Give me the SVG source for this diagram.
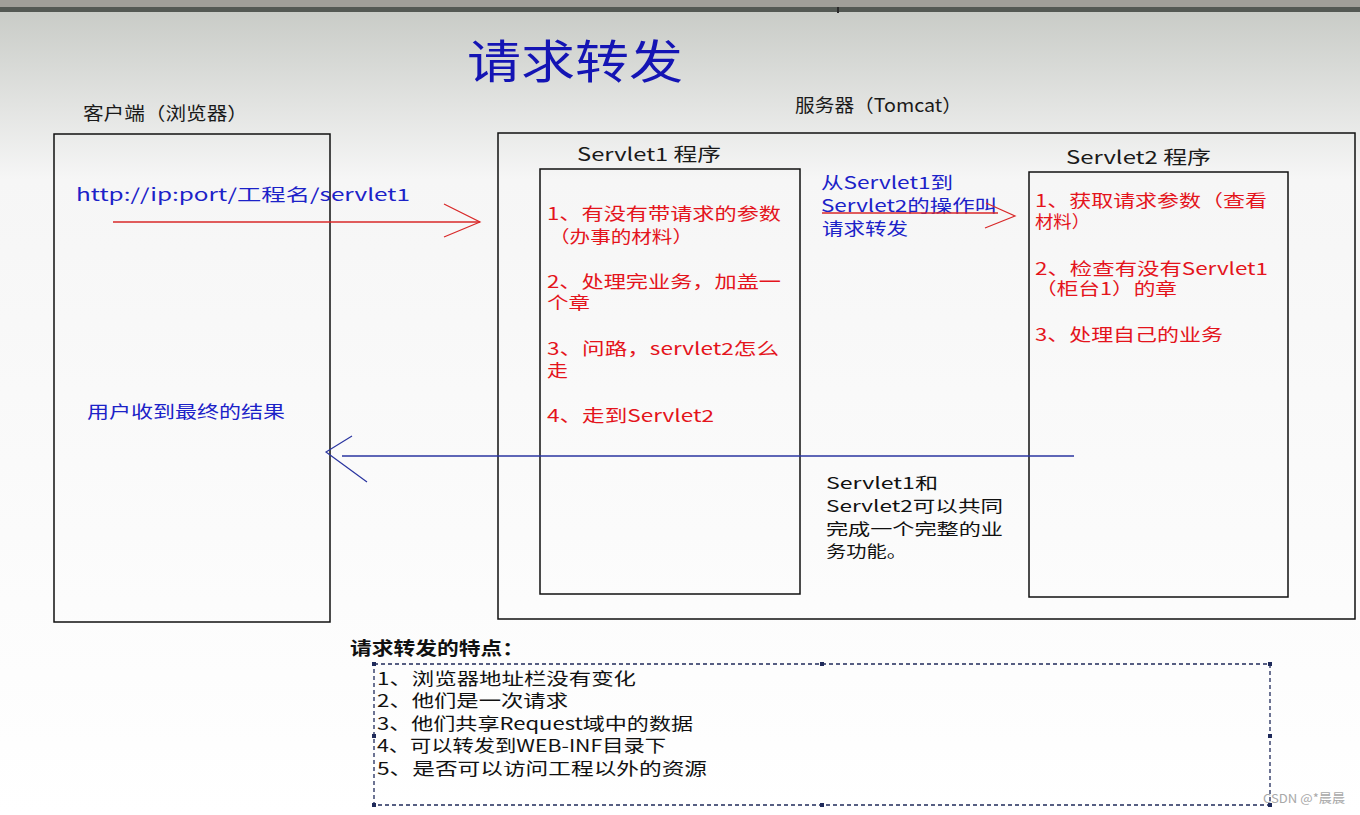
<svg xmlns="http://www.w3.org/2000/svg" width="1360" height="815" viewBox="0 0 1360 815">
<defs>
<linearGradient id="bg" x1="0" y1="0" x2="0" y2="1">
<stop offset="0" stop-color="#c6c9c4"/>
<stop offset="0.22" stop-color="#f6f6f6"/>
<stop offset="1" stop-color="#ffffff"/>
</linearGradient>
<style>
text{font-family:"Noto Sans CJK SC","Liberation Sans",sans-serif;}
.box{fill:none;stroke:#111;stroke-width:1.5;}
.blk{fill:#1a1a1a;font-size:18px;}
.red{fill:#e4141c;font-size:17px;}
.blue{fill:#1c22c8;font-size:17px;}
.note{fill:#111;font-size:16px;}
.feat{fill:#111;font-size:17px;}
.handle{fill:#1f2a5a;}
</style>
</defs>
<rect x="0" y="0" width="1360" height="815" fill="url(#bg)"/>
<rect x="0" y="0" width="1360" height="7" fill="#a19f99"/>
<rect x="0" y="7" width="1360" height="5" fill="#545954"/>
<rect x="837" y="7" width="2" height="6" fill="#2a2a2a"/>

<g id="title"><text x="467" y="78" font-size="46" fill="#1414b4" textLength="216" lengthAdjust="spacingAndGlyphs">请求转发</text></g>

<g id="client">
<text x="83" y="120" class="blk" textLength="165" lengthAdjust="spacingAndGlyphs">客户端（浏览器）</text>
<rect x="54" y="134" width="276" height="488" class="box"/>
<text x="76" y="201" class="blue" textLength="334" lengthAdjust="spacingAndGlyphs">http://ip:port/工程名/servlet1</text>
<text x="87" y="418" class="blue" textLength="198" lengthAdjust="spacingAndGlyphs">用户收到最终的结果</text>
</g>

<g id="server">
<text x="795" y="112" class="blk" textLength="167" lengthAdjust="spacingAndGlyphs">服务器（Tomcat）</text>
<rect x="498" y="133" width="857" height="486" class="box"/>
</g>

<g id="servlet1">
<text x="577" y="161" class="blk" textLength="144" lengthAdjust="spacingAndGlyphs">Servlet1 程序</text>
<rect x="540" y="169" width="260" height="425" class="box"/>
<text x="547" y="220" class="red" textLength="234" lengthAdjust="spacingAndGlyphs">1、有没有带请求的参数</text>
<text x="549" y="243" class="red" textLength="144" lengthAdjust="spacingAndGlyphs">（办事的材料）</text>
<text x="547" y="288" class="red" textLength="234" lengthAdjust="spacingAndGlyphs">2、处理完业务，加盖一</text>
<text x="547" y="309" class="red" textLength="43" lengthAdjust="spacingAndGlyphs">个章</text>
<text x="547" y="355" class="red" textLength="232" lengthAdjust="spacingAndGlyphs">3、问路，servlet2怎么</text>
<text x="547" y="377" class="red" textLength="21" lengthAdjust="spacingAndGlyphs">走</text>
<text x="547" y="422" class="red" textLength="167" lengthAdjust="spacingAndGlyphs">4、走到Servlet2</text>
</g>

<g id="forward-label">
<text x="821" y="189" class="blue" textLength="132" lengthAdjust="spacingAndGlyphs">从Servlet1到</text>
<text x="821" y="212" class="blue" textLength="176" lengthAdjust="spacingAndGlyphs">Servlet2的操作叫</text>
<text x="822" y="235" class="blue" textLength="86" lengthAdjust="spacingAndGlyphs">请求转发</text>
</g>

<g id="servlet2">
<text x="1066" y="164" class="blk" textLength="145" lengthAdjust="spacingAndGlyphs">Servlet2 程序</text>
<rect x="1029" y="172" width="259" height="425" class="box"/>
<text x="1035" y="207" class="red" textLength="232" lengthAdjust="spacingAndGlyphs">1、获取请求参数（查看</text>
<text x="1035" y="228" class="red" textLength="55" lengthAdjust="spacingAndGlyphs">材料）</text>
<text x="1035" y="275" class="red" textLength="233" lengthAdjust="spacingAndGlyphs">2、检查有没有Servlet1</text>
<text x="1035" y="295" class="red" textLength="142" lengthAdjust="spacingAndGlyphs">（柜台1）的章</text>
<text x="1035" y="341" class="red" textLength="188" lengthAdjust="spacingAndGlyphs">3、处理自己的业务</text>
</g>

<g id="note">
<text x="826" y="489" class="note" textLength="112" lengthAdjust="spacingAndGlyphs">Servlet1和</text>
<text x="826" y="512" class="note" textLength="177" lengthAdjust="spacingAndGlyphs">Servlet2可以共同</text>
<text x="826" y="535" class="note" textLength="177" lengthAdjust="spacingAndGlyphs">完成一个完整的业</text>
<text x="826" y="557" class="note" textLength="81" lengthAdjust="spacingAndGlyphs">务功能。</text>
</g>

<g id="connectors" fill="none">
<line x1="113" y1="222" x2="480" y2="222" stroke="#d82828" stroke-width="1.5"/>
<polyline points="444,204 480,222 444,237" stroke="#d82828" stroke-width="1.2"/>
<line x1="822" y1="213" x2="998" y2="213" stroke="#d82828" stroke-width="1.5"/>
<polyline points="986,203 1015,216 985,228" stroke="#d82828" stroke-width="1.2"/>
<line x1="342" y1="456" x2="1074" y2="456" stroke="#2a35a0" stroke-width="1.5"/>
<polyline points="352,436 326,452 367,482" stroke="#2a35a0" stroke-width="1.2"/>
</g>

<g id="features">
<text x="350" y="655" font-size="18" font-weight="bold" fill="#111" textLength="174" lengthAdjust="spacingAndGlyphs">请求转发的特点：</text>
<rect x="374" y="664" width="896" height="141" fill="none" stroke="#1f2a5a" stroke-width="1.3" stroke-dasharray="4,3"/>
<rect x="372" y="662" width="4" height="4" class="handle"/>
<rect x="820" y="662" width="4" height="4" class="handle"/>
<rect x="1268" y="662" width="4" height="4" class="handle"/>
<rect x="372" y="734" width="4" height="4" class="handle"/>
<rect x="1268" y="734" width="4" height="4" class="handle"/>
<rect x="372" y="803" width="4" height="4" class="handle"/>
<rect x="820" y="803" width="4" height="4" class="handle"/>
<rect x="1268" y="803" width="4" height="4" class="handle"/>
<text x="377" y="685" class="feat" textLength="259" lengthAdjust="spacingAndGlyphs">1、浏览器地址栏没有变化</text>
<text x="377" y="707" class="feat" textLength="191" lengthAdjust="spacingAndGlyphs">2、他们是一次请求</text>
<text x="377" y="730" class="feat" textLength="316" lengthAdjust="spacingAndGlyphs">3、他们共享Request域中的数据</text>
<text x="377" y="752" class="feat" textLength="289" lengthAdjust="spacingAndGlyphs">4、可以转发到WEB-INF目录下</text>
<text x="377" y="775" class="feat" textLength="330" lengthAdjust="spacingAndGlyphs">5、是否可以访问工程以外的资源</text>
</g>

<g id="watermark"><text x="1263" y="803" font-size="12" fill="#a8a8a8" textLength="82" lengthAdjust="spacingAndGlyphs">CSDN @*晨晨</text></g>
</svg>
